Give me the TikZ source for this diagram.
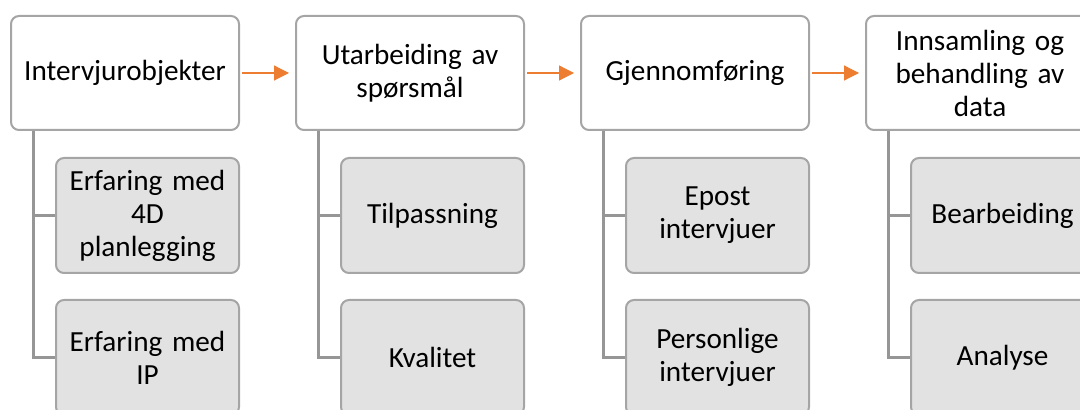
\documentclass[tikz,border=0pt]{standalone}
\usepackage{fontspec}
\setmainfont{Carlito}
\usetikzlibrary{arrows.meta}
\definecolor{boxgray}{RGB}{165,165,165}
\definecolor{taskfill}{RGB}{226,226,226}
\definecolor{linkgray}{RGB}{150,150,150}
\definecolor{flowor}{RGB}{237,125,49}
\begin{document}
\begin{tikzpicture}[x=0.5pt,y=-0.5pt,font=\fontsize{14.6}{16.5}\selectfont,
  stage/.style={draw=boxgray, line width=1pt, rounded corners=4pt, fill=white,
    minimum width=114pt, minimum height=57pt, text width=104pt, align=center, inner sep=0pt},
  task/.style={stage, fill=taskfill, minimum width=91.5pt, minimum height=57.5pt, text width=85pt},
  link/.style={draw=linkgray, line width=1.5pt},
  flow/.style={draw=flowor, line width=0.6pt, -{Triangle[length=7.5pt,width=7.5pt]},
    shorten >=3pt, shorten <=1pt}]
  \clip (0,0) rectangle (1080,410);
  % Stages along the top
  \node[stage] (s1) at (125,73) {Intervjurobjekter};
  \node[stage] (s2) at (410,73) {Utarbeiding av\\spørsmål};
  \node[stage] (s3) at (695,73) {Gjennomføring};
  \node[stage] (s4) at (980,73) {Innsamling og\\behandling av\\data};
  % Tasks under each stage
  \node[task] (s1a) at (147.5,215.5) {Erfaring med\\4D\\planlegging};
  \node[task] (s1b) at (147.5,357.5) {Erfaring med\\IP};
  \node[task] (s2a) at (432.5,215.5) {Tilpassning};
  \node[task] (s2b) at (432.5,357.5) {Kvalitet};
  \node[task] (s3a) at (717.5,215.5) {Epost\\intervjuer};
  \node[task] (s3b) at (717.5,357.5) {Personlige\\intervjuer};
  \node[task] (s4a) at (1002.5,215.5) {Bearbeiding};
  \node[task] (s4b) at (1002.5,357.5) {Analyse};
  % Connectors
  \foreach \col in {1,2,3,4} {
    \draw[link] ([xshift=11.5pt]s\col.south west) |- (s\col a.west);
    \draw[link] ([xshift=11.5pt]s\col.south west) |- (s\col b.west);
  }
  \foreach \a/\b in {s1/s2,s2/s3,s3/s4}
    \draw[flow] (\a) -- (\b);
\end{tikzpicture}
\end{document}
